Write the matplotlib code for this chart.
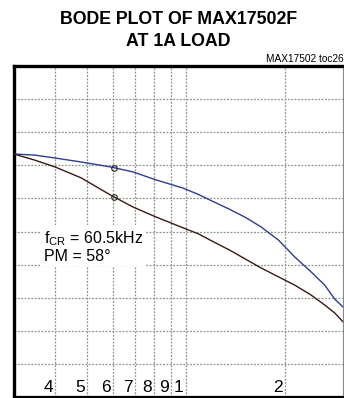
import matplotlib
matplotlib.use("Agg")
import matplotlib.pyplot as plt
import numpy as np

plt.rcParams['font.family'] = ['Liberation Sans', 'DejaVu Sans']

# frequency (Hz) and traces in grid divisions (0..10 from bottom)
freq = np.array([30e3, 34.6e3, 40e3, 48e3, 59e3, 69e3, 81e3, 98e3, 109e3, 120e3,
                 135e3, 152e3, 169e3, 191e3, 214e3, 240e3, 264e3, 283e3, 300e3])
blue = np.array([7.34, 7.31, 7.22, 7.10, 6.95, 6.80, 6.56, 6.31, 6.12, 5.92,
                 5.68, 5.42, 5.14, 4.74, 4.23, 3.78, 3.38, 2.96, 2.72])
black = np.array([7.34, 7.16, 6.95, 6.62, 6.10, 5.74, 5.44, 5.11, 4.93, 4.71,
                  4.45, 4.16, 3.90, 3.63, 3.38, 3.08, 2.78, 2.54, 2.27])
f_cr = 60.5e3

tick_freqs = [40e3, 50e3, 60e3, 70e3, 80e3, 90e3, 100e3, 200e3]
tick_labels = ["4", "5", "6", "7", "8", "9", "1", "2"]

fig = plt.figure(figsize=(3.44, 3.98), dpi=100)
ax = fig.add_axes([14/344, 1/398, 329/344, 331/398])

ax.set_xscale('log')
ax.set_xlim(30e3, 300e3)
ax.set_ylim(0, 10)

gridc = '#8a968a'
for f in tick_freqs:
    ax.axvline(f, color=gridc, lw=0.9, ls=(0, (1.5, 1.2)), zorder=1)
for yv in range(1, 10):
    ax.axhline(yv, color=gridc, lw=0.9, ls=(0, (1.5, 1.2)), zorder=1)

ax.plot(freq, blue, color='#2e3b96', lw=1.0, zorder=3)
ax.plot(freq, black, color='#3a1a12', lw=1.0, zorder=3)
ax.plot([f_cr], [np.interp(np.log(f_cr), np.log(freq), blue)], 'o', ms=4,
        mfc='none', mec='#222222', mew=0.8, zorder=4)
ax.plot([f_cr], [np.interp(np.log(f_cr), np.log(freq), black)], 'o', ms=4,
        mfc='none', mec='#222222', mew=0.8, zorder=4)

ax.text(0.09, 0.455, "f$_{\\mathregular{CR}}$ = 60.5kHz\nPM = 58°", transform=ax.transAxes,
        fontsize=11.5, va='center', ha='left', linespacing=1.05,
        bbox=dict(facecolor='white', edgecolor='none', pad=2), zorder=5)

for f, lab in zip(tick_freqs, tick_labels):
    ax.text(f * 0.985, 0.03, lab, transform=ax.get_xaxis_transform(),
            ha='right', va='center', fontsize=12.5, zorder=5)

ax.set_xticks([])
ax.set_yticks([])
ax.xaxis.set_minor_locator(matplotlib.ticker.NullLocator())
ax.tick_params(which='both', length=0)
ax.spines['left'].set_linewidth(2.4)
ax.spines['top'].set_linewidth(2.4)
ax.spines['bottom'].set_linewidth(1.6)
ax.spines['right'].set_linewidth(0.8)
ax.spines['right'].set_color('#888888')

fig.text(0.518, 0.924, "BODE PLOT OF MAX17502F\nAT 1A LOAD", ha='center', va='center',
         fontsize=12.8, fontweight='bold', linespacing=1.42)
fig.text(0.998, 0.852, "MAX17502 toc26", ha='right', va='center', fontsize=7.3)

fig.savefig("out.png", dpi=100)
